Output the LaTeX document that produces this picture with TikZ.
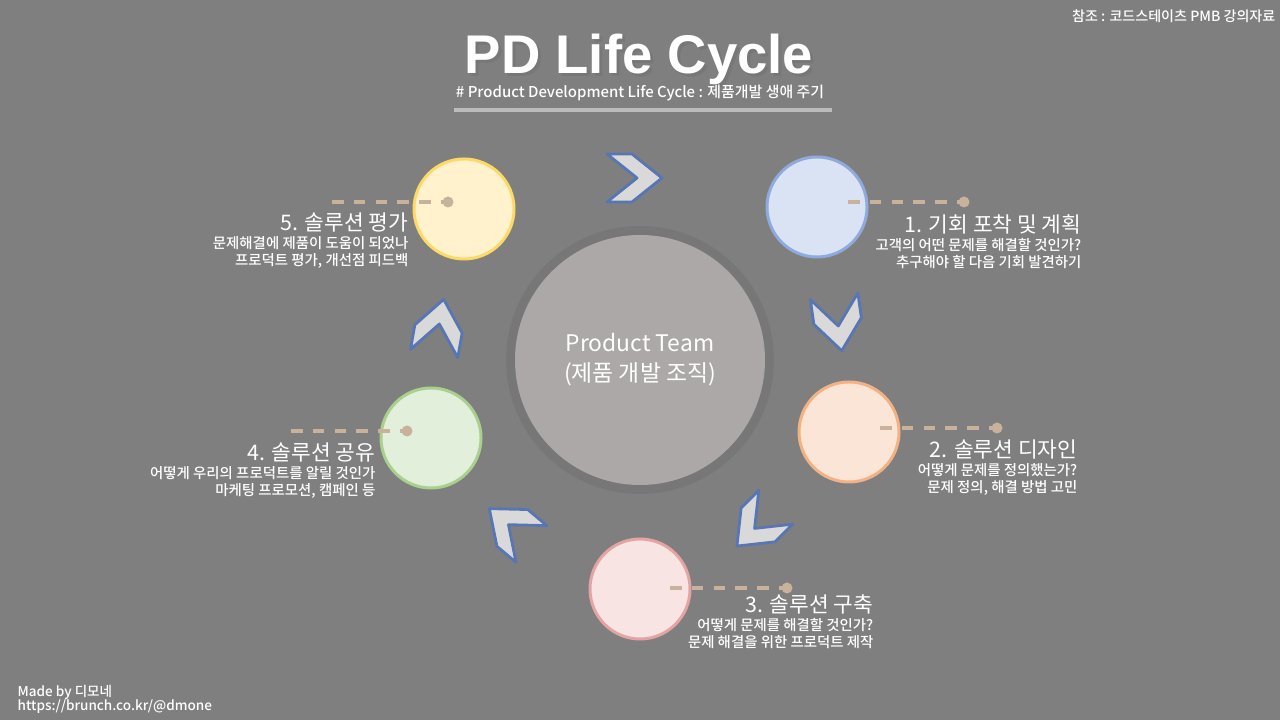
\documentclass[tikz,border=0pt]{standalone}
\usepackage{fontspec}
\setmainfont{Noto Sans CJK KR}
\newfontfamily\medfont{Noto Sans CJK KR Medium}
\newfontfamily\headfont{Liberation Sans}
\usepackage{tikz}
\definecolor{bgcolor}{RGB}{127, 127, 127}
\definecolor{teamfill}{RGB}{172, 168, 168}
\definecolor{teamring}{RGB}{119, 119, 119}
\definecolor{leadercolor}{RGB}{201, 178, 155}
\definecolor{chevronfill}{RGB}{217, 217, 217}
\definecolor{chevronline}{RGB}{88, 118, 180}
\definecolor{planfill}{RGB}{218, 227, 243}
\definecolor{planline}{RGB}{143, 170, 220}
\definecolor{designfill}{RGB}{251, 229, 214}
\definecolor{designline}{RGB}{244, 177, 131}
\definecolor{buildfill}{RGB}{249, 228, 228}
\definecolor{buildline}{RGB}{228, 164, 164}
\definecolor{sharefill}{RGB}{226, 239, 218}
\definecolor{shareline}{RGB}{169, 208, 142}
\definecolor{evalfill}{RGB}{255, 242, 204}
\definecolor{evalline}{RGB}{255, 217, 102}
\tikzset{pics/turn/.style={code={
    \draw[chevron] (-0.28,0.24) -- (-0.03,0.24) -- (0.27,0) -- (-0.03,-0.24) -- (-0.28,-0.24) -- (0.02,0) -- cycle;
}}}

\begin{document}
\begin{tikzpicture}[
    stage/.style={circle, draw, line width=0.85pt, minimum size=1cm, inner sep=0pt},
    leader/.style={leadercolor, line width=1.1pt, dash pattern=on 3.3pt off 2.9pt},
    dotend/.style={circle, fill=leadercolor, inner sep=0pt, minimum size=0.11cm},
    chevron/.style={fill=chevronfill, draw=chevronline, line width=0.8pt, line join=round},
    stagetitle/.style={text=white, font=\fontsize{6.1}{7}\selectfont, anchor=base east, inner sep=0pt},
    stagedesc/.style={text=white, font=\medfont\fontsize{4.1}{5}\selectfont, anchor=base east, inner sep=0pt},
    note/.style={text=white, font=\medfont\fontsize{4}{4.5}\selectfont, inner sep=0pt}
]
    \useasboundingbox (0,0) rectangle (12.8,7.2);
    \fill[bgcolor] (0,0) rectangle (12.8,7.2);

    % Header
    \node[font=\headfont\bfseries\fontsize{15.5}{18}\selectfont, text=black!55, opacity=0.6, anchor=base, inner sep=0pt, text depth=0pt] (titleshadow) at (6.42,6.43) {PD Life Cycle};
    \node[font=\headfont\bfseries\fontsize{15.5}{18}\selectfont, text=white, anchor=base, inner sep=0pt, text depth=0pt] (title) at (6.39,6.46) {PD Life Cycle};
    \node[font=\medfont\fontsize{4.25}{5}\selectfont, text=white, anchor=base, inner sep=0pt, text height=3pt] (subtitle) at (6.40,6.22) {\# Product Development Life Cycle : 제품개발 생애 주기};
    \draw[line width=0.9pt, black!35!white!75] (4.54,6.10) -- (8.32,6.10);
    \node[note, anchor=base east] (source) at (12.76,6.98) {참조 : 코드스테이츠 PMB 강의자료};

    % Product team
    \node[circle, fill=teamring, minimum size=2.68cm, inner sep=0pt] (ring) at (6.40,3.60) {};
    \node[circle, fill=teamfill, minimum size=2.5cm, inner sep=0pt, align=center, text=white, font=\fontsize{6.5}{8.5}\selectfont] (team) at (6.40,3.60) {Product Team\\(제품 개발 조직)};

    % Stage circles
    \node[stage, fill=planfill, draw=planline] (plan) at (8.17,5.13) {};
    \node[stage, fill=designfill, draw=designline] (design) at (8.49,2.88) {};
    \node[stage, fill=buildfill, draw=buildline] (build) at (6.40,1.31) {};
    \node[stage, fill=sharefill, draw=shareline] (share) at (4.31,2.82) {};
    \node[stage, fill=evalfill, draw=evalline] (eval) at (4.64,5.11) {};

    % Turn arrows
    \pic[rotate=0] at (6.35,5.42) {turn};
    \pic[rotate=-82] at (8.38,3.96) {turn};
    \pic[rotate=-135] at (7.56,1.93) {turn};
    \pic[rotate=140] at (5.10,1.94) {turn};
    \pic[rotate=80] at (4.39,3.94) {turn};

    % Leaders
    \coordinate (planstart) at (8.48,5.18);
    \node[dotend] (plandot) at (9.64,5.18) {};
    \draw[leader] (planstart) -- (plandot.center);
    \coordinate (designstart) at (8.80,2.92);
    \node[dotend] (designdot) at (9.97,2.92) {};
    \draw[leader] (designstart) -- (designdot.center);
    \coordinate (buildstart) at (6.70,1.32);
    \node[dotend] (builddot) at (7.87,1.32) {};
    \draw[leader] (buildstart) -- (builddot.center);
    \coordinate (shareend) at (2.91,2.89);
    \node[dotend] (sharedot) at (4.07,2.89) {};
    \draw[leader] (shareend) -- (sharedot.center);
    \coordinate (evalend) at (3.32,5.18);
    \node[dotend] (evaldot) at (4.48,5.18) {};
    \draw[leader] (evalend) -- (evaldot.center);

    % Stage texts
    \node[stagetitle] (plantitle) at (10.82,4.87) {1. 기회 포착 및 계획};
    \node[stagedesc] (plandesca) at (10.82,4.69) {고객의 어떤 문제를 해결할 것인가?};
    \node[stagedesc] (plandescb) at (10.82,4.52) {추구해야 할 다음 기회 발견하기};

    \node[stagetitle] (designtitle) at (10.78,2.62) {2. 솔루션 디자인};
    \node[stagedesc] (designdesca) at (10.78,2.44) {어떻게 문제를 정의했는가?};
    \node[stagedesc] (designdescb) at (10.78,2.27) {문제 정의, 해결 방법 고민};

    \node[stagetitle] (buildtitle) at (8.74,1.07) {3. 솔루션 구축};
    \node[stagedesc] (builddesca) at (8.74,0.89) {어떻게 문제를 해결할 것인가?};
    \node[stagedesc] (builddescb) at (8.74,0.72) {문제 해결을 위한 프로덕트 제작};

    \node[stagetitle] (sharetitle) at (3.76,2.59) {4. 솔루션 공유};
    \node[stagedesc] (sharedesca) at (3.76,2.41) {어떻게 우리의 프로덕트를 알릴 것인가};
    \node[stagedesc] (sharedescb) at (3.76,2.24) {마케팅 프로모션, 캠페인 등};

    \node[stagetitle] (evaltitle) at (4.09,4.89) {5. 솔루션 평가};
    \node[stagedesc] (evaldesca) at (4.09,4.71) {문제해결에 제품이 도움이 되었나};
    \node[stagedesc] (evaldescb) at (4.09,4.54) {프로덕트 평가, 개선점 피드백};

    % Footer
    \node[note, anchor=base west, font=\medfont\fontsize{3.85}{5}\selectfont] (madeby) at (0.17,0.23) {Made by 디모네};
    \node[note, anchor=base west, font=\medfont\fontsize{3.85}{5}\selectfont] (link) at (0.17,0.09) {https://brunch.co.kr/@dmone};
\end{tikzpicture}
\end{document}
